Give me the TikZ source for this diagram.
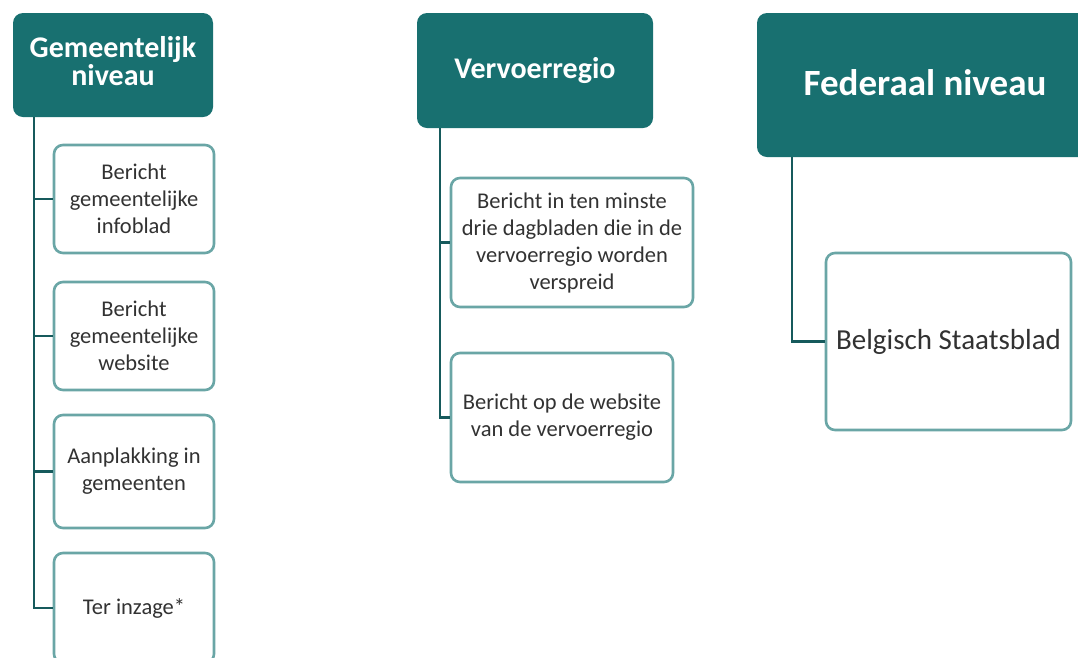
\documentclass[tikz,border=0pt]{standalone}
\usepackage{fontspec}
\setmainfont{Carlito}
\definecolor{hdr}{RGB}{24,112,112}
\definecolor{cbord}{RGB}{106,166,166}
\definecolor{cline}{RGB}{22,90,92}
\definecolor{ctext}{RGB}{50,50,50}
\tikzset{
  hdrbox/.style={fill=hdr, draw=none, rounded corners=10pt, text=white, align=center, font=\bfseries\fontsize{30}{30}\selectfont, inner sep=0pt},
  childbox/.style={draw=cbord, line width=2.6pt, fill=white, rounded corners=9pt, text=ctext, align=center, font=\fontsize{22.5}{27}\selectfont, inner sep=0pt},
  conn/.style={draw=cline, line width=2.6pt}
}
\begin{document}
\begin{tikzpicture}[x=1pt,y=-1pt]
\useasboundingbox (0,0) rectangle (1078,657);
\clip (0,0) rectangle (1078,657);
\fill[white] (0,0) rectangle (1078,657);
% headers
\node[hdrbox, minimum width=200pt, minimum height=104pt] (h1) at (113,65) {\raisebox{2pt}{\begin{tabular}{@{}c@{}}Gemeentelijk\\[-2pt]niveau\end{tabular}}};
\node[hdrbox, minimum width=236pt, minimum height=115pt] (h2) at (535,70.5) {Vervoerregio};
\node[hdrbox, minimum width=336pt, minimum height=144pt, font=\bfseries\fontsize{37}{40}\selectfont] (h3) at (925,85) {\raisebox{5pt}{Federaal niveau}};
% connector roots
\coordinate (t1) at (34,117);
\coordinate (t2) at (440,128);
\coordinate (t3) at (792,157);
% children column 1
\node[childbox, minimum width=160pt, minimum height=108pt] (a1) at (134,199) {Bericht\\gemeentelijke\\infoblad};
\node[childbox, minimum width=160pt, minimum height=108pt] (a2) at (134,336) {Bericht\\gemeentelijke\\website};
\node[childbox, minimum width=160pt, minimum height=113pt] (a3) at (134,471.5) {Aanplakking in\\gemeenten};
\node[childbox, minimum width=160pt, minimum height=110pt] (a4) at (134,608) {Ter inzage*};
% children column 2
\node[childbox, minimum width=242pt, minimum height=129pt] (b1) at (572,242.5) {Bericht in ten minste\\drie dagbladen die in de\\vervoerregio worden\\verspreid};
\node[childbox, minimum width=222pt, minimum height=129pt] (b2) at (562,417.5) {Bericht op de website\\van de vervoerregio};
% child column 3
\node[childbox, minimum width=245pt, minimum height=177pt, font=\fontsize{29}{32}\selectfont] (c1) at (948.5,341.5) {Belgisch Staatsblad};
% connectors
\draw[conn] (t1) |- (a1.west);
\draw[conn] (t1) |- (a2.west);
\draw[conn] (t1) |- (a3.west);
\draw[conn] (t1) |- (a4.west);
\draw[conn] (t2) |- (b1.west);
\draw[conn] (t2) |- (b2.west);
\draw[conn] (t3) |- (c1.west);
\end{tikzpicture}
\end{document}
